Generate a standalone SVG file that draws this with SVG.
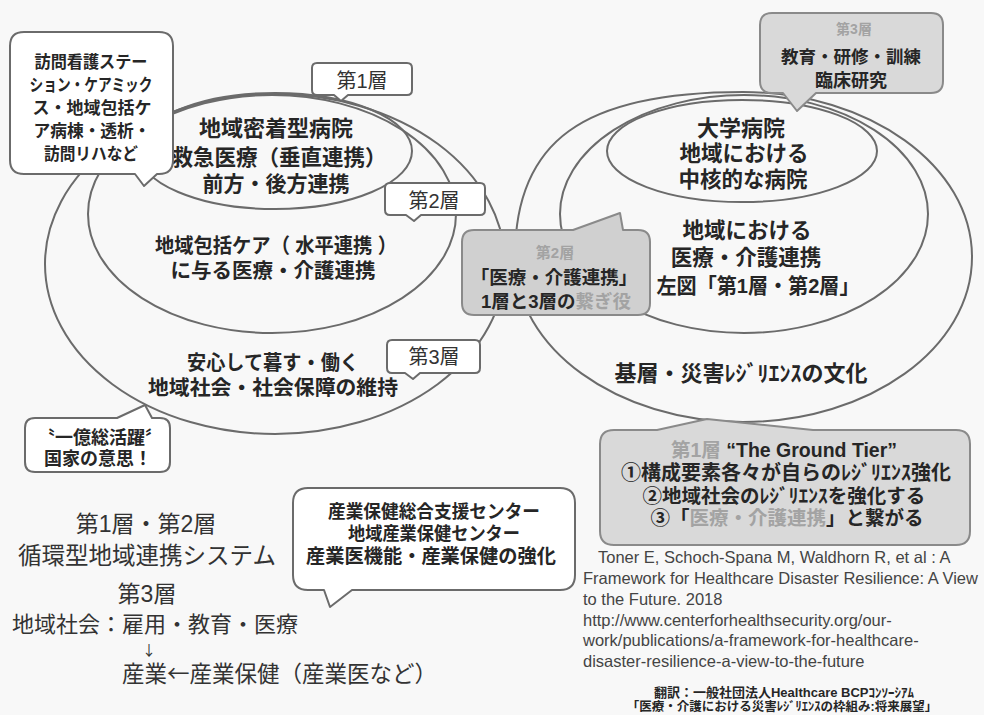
<svg xmlns="http://www.w3.org/2000/svg" width="984" height="715" viewBox="0 0 984 715">
<style>
.ell{fill:none;stroke:#6b6b6b;stroke-width:2}
.cw{fill:#ffffff;stroke:#6b6b6b;stroke-width:2;stroke-linejoin:round}
.cg{fill:#d9d9d9;stroke:#8a8a8a;stroke-width:2;stroke-linejoin:round}
.cg2{fill:#d0d0d0;stroke:#8a8a8a;stroke-width:2;stroke-linejoin:round}
.jb{font-family:"Liberation Sans","Noto Sans CJK JP","Noto Sans CJK SC",sans-serif;font-weight:700;fill:#262626}
.jr{font-family:"Liberation Sans","Noto Sans CJK JP","Noto Sans CJK SC",sans-serif;font-weight:400;fill:#333333}
.cjk{font-family:"Noto Sans CJK JP","Noto Sans CJK SC",sans-serif}
.g{fill:#a3a3a3}
.en{font-family:"Liberation Sans",Arial,sans-serif;fill:#444444}
.m{text-anchor:middle}
</style>
<rect width="984" height="715" fill="#f8f8f8"/>

<g id="left-tiers">
  <ellipse class="ell" cx="275" cy="264" rx="230" ry="170"/>
  <ellipse class="ell" cx="272" cy="214" rx="184" ry="119"/>
  <ellipse class="ell" cx="275" cy="151" rx="137" ry="58"/>
</g>
<g id="right-tiers">
  <path class="ell" d="M515,257 C515,141 583,92 743,92 C869,92 972,166 972,257 C972,348 869,422 743,422 C617,422 515,348 515,257 Z"/>
  <ellipse class="ell" cx="744" cy="214" rx="184" ry="119"/>
  <ellipse class="ell" cx="742" cy="151" rx="135" ry="51"/>
</g>

<g id="left-tier1-text">
  <text class="jb m" x="276" y="136" font-size="22">地域密着型病院</text>
  <text class="jb m" x="279" y="165" font-size="21.5">救急医療（垂直連携）</text>
  <text class="jb m" x="276" y="191" font-size="21">前方・後方連携</text>
</g>
<g id="left-tier2-text">
  <text class="jb m" x="276" y="253" font-size="20.5" textLength="242" lengthAdjust="spacingAndGlyphs">地域包括ケア（ 水平連携 ）</text>
  <text class="jb m" x="273" y="278" font-size="20.5">に与る医療・介護連携</text>
</g>
<g id="left-tier3-text">
  <text class="jb m" x="273" y="370" font-size="20.5" textLength="172" lengthAdjust="spacingAndGlyphs">安心して暮す・働く</text>
  <text class="jb m" x="273" y="395" font-size="20.5" textLength="250" lengthAdjust="spacingAndGlyphs">地域社会・社会保障の維持</text>
</g>

<g id="label-tier1">
  <path class="cw" d="M317,63 H407 Q412,63 412,68 V90 Q412,95 407,95 H348 L341,101 L334,95 H317 Q312,95 312,90 V68 Q312,63 317,63 Z"/>
  <text class="jr m" x="362" y="88" font-size="20">第1層</text>
</g>
<g id="label-tier2">
  <path class="cw" d="M390,183 H480 Q485,183 485,188 V210 Q485,215 480,215 H421 L414,221 L406,215 H390 Q385,215 385,210 V188 Q385,183 390,183 Z"/>
  <text class="jr m" x="434" y="208" font-size="20">第2層</text>
</g>
<g id="label-tier3">
  <path class="cw" d="M392,340 H475 Q480,340 480,345 V368 Q480,373 475,373 H420 L413,379 L405,373 H392 Q387,373 387,368 V345 Q387,340 392,340 Z"/>
  <text class="jr m" x="434" y="364" font-size="20">第3層</text>
</g>

<g id="callout-homecare">
  <path class="cw" d="M24,32 H159 Q173,32 173,46 V160 Q173,174 159,174 H157 L144,186 L135,174 H24 Q10,174 10,160 V46 Q10,32 24,32 Z"/>
  <text class="jb m" x="91" y="68" font-size="17" textLength="113" lengthAdjust="spacingAndGlyphs">訪問看護ステー</text>
  <text class="jb m" x="91" y="91" font-size="17" textLength="123" lengthAdjust="spacingAndGlyphs">ション・ケアミック</text>
  <text class="jb m" x="92" y="114" font-size="17" textLength="119" lengthAdjust="spacingAndGlyphs">ス・地域包括ケ</text>
  <text class="jb m" x="92" y="137" font-size="17" textLength="117" lengthAdjust="spacingAndGlyphs">ア病棟・透析・</text>
  <text class="jb m" x="91" y="160" font-size="17" textLength="94" lengthAdjust="spacingAndGlyphs">訪問リハなど</text>
</g>

<g id="callout-ichioku">
  <path class="cw" d="M35,418 H117 L145,405 L152,418 H160 Q170,418 170,428 V462 Q170,472 160,472 H35 Q25,472 25,462 V428 Q25,418 35,418 Z"/>
  <text class="jb m" x="100" y="444" font-size="18">〝一億総活躍〞</text>
  <text class="jb m" x="98" y="465" font-size="18">国家の意思！</text>
</g>

<g id="callout-tier3-right">
  <path class="cg" d="M772,13 H931 Q943,13 943,25 V81 Q943,93 931,93 H816 L797,111 L783,93 H772 Q760,93 760,81 V25 Q760,13 772,13 Z"/>
  <text class="jb m g" x="854" y="34" font-size="14">第3層</text>
  <text class="jb m" x="851" y="63" font-size="17.5">教育・研修・訓練</text>
  <text class="jb m" x="851" y="87" font-size="18">臨床研究</text>
</g>

<g id="right-tier1-text">
  <text class="jb m" x="741" y="136" font-size="22">大学病院</text>
  <text class="jb m" x="744" y="161" font-size="21.5">地域における</text>
  <text class="jb m" x="743" y="187" font-size="21.5">中核的な病院</text>
</g>
<g id="right-tier2-text">
  <text class="jb m" x="747" y="238" font-size="21.5">地域における</text>
  <text class="jb m" x="746" y="265" font-size="21.5">医療・介護連携</text>
  <text class="jb m" x="758" y="293" font-size="21" textLength="203" lengthAdjust="spacingAndGlyphs">左図「第1層・第2層」</text>
</g>
<g id="right-tier3-text">
  <text class="jb m" x="741" y="381" font-size="22">基層・災害ﾚｼﾞﾘｴﾝｽの文化</text>
</g>

<g id="callout-tier2-center">
  <path class="cg2" d="M474,230 H573 L620,213 L623,230 H638 Q650,230 650,242 V303 Q650,315 638,315 H474 Q462,315 462,303 V242 Q462,230 474,230 Z"/>
  <text class="jb m g" x="555" y="258" font-size="15">第2層</text>
  <text class="jb m" x="554" y="284" font-size="18.5">「医療・介護連携」</text>
  <text class="jb m" x="556" y="308" font-size="18.5">1層と3層の<tspan class="g">繋ぎ役</tspan></text>
</g>

<g id="callout-ground-tier">
  <path class="cg" d="M614,430 H657 L707,419 L813,430 H956 Q970,430 970,444 V531 Q970,545 956,545 H614 Q600,545 600,531 V444 Q600,430 614,430 Z"/>
  <text class="jb m" x="784" y="457" font-size="19.5"><tspan class="g">第1層</tspan> “The Ground Tier”</text>
  <text class="jb m" x="786" y="480" font-size="20">①構成要素各々が自らのﾚｼﾞﾘｴﾝｽ強化</text>
  <text class="jb m" x="784" y="503" font-size="19.5">②地域社会のﾚｼﾞﾘｴﾝｽを強化する</text>
  <text class="jb m" x="787" y="525" font-size="19.5">③「<tspan class="g">医療・介護連携</tspan>」と繋がる</text>
</g>

<g id="callout-occupational-health">
  <path class="cw" d="M308,488 H560 Q575,488 575,503 V575 Q575,590 560,590 H352 L330,607 L324,590 H308 Q293,590 293,575 V503 Q293,488 308,488 Z"/>
  <text class="jb m" x="434" y="518" font-size="18.5" textLength="212" lengthAdjust="spacingAndGlyphs">産業保健総合支援センター</text>
  <text class="jb m" x="434" y="540" font-size="18.5" textLength="172" lengthAdjust="spacingAndGlyphs">地域産業保健センター</text>
  <text class="jb m" x="431" y="563" font-size="19.5" textLength="250" lengthAdjust="spacingAndGlyphs">産業医機能・産業保健の強化</text>
</g>

<g id="bottom-left-text">
  <text class="jr m" x="146" y="532" font-size="23">第1層・第2層</text>
  <text class="jr m" x="147" y="564" font-size="23.5">循環型地域連携システム</text>
  <text class="jr m" x="147" y="602" font-size="23">第3層</text>
  <text class="jr" x="12" y="632" font-size="22">地域社会：雇用・教育・医療</text>
  <text class="jr m cjk" x="149" y="655" font-size="14">↓</text>
  <text class="jr" x="122" y="682" font-size="22.5">産業<tspan class="cjk">←</tspan>産業保健（産業医など）</text>
</g>

<g id="citation">
  <text class="en" x="598" y="563" font-size="16.5">Toner E, Schoch-Spana M, Waldhorn R, et al : A</text>
  <text class="en" x="583" y="584" font-size="16.5">Framework for Healthcare Disaster Resilience: A View</text>
  <text class="en" x="583" y="605" font-size="16.5">to the Future. 2018</text>
  <text class="en" x="583" y="626" font-size="16.5">http://www.centerforhealthsecurity.org/our-</text>
  <text class="en" x="583" y="646" font-size="16.5">work/publications/a-framework-for-healthcare-</text>
  <text class="en" x="583" y="667" font-size="16.5">disaster-resilience-a-view-to-the-future</text>
  <text class="jb m" x="784" y="697" font-size="13">翻訳：一般社団法人Healthcare BCPｺﾝｿｰｼｱﾑ</text>
  <text class="jb m" x="782" y="711" font-size="12.5">「医療・介護における災害ﾚｼﾞﾘｴﾝｽの枠組み:将来展望」</text>
</g>
</svg>
